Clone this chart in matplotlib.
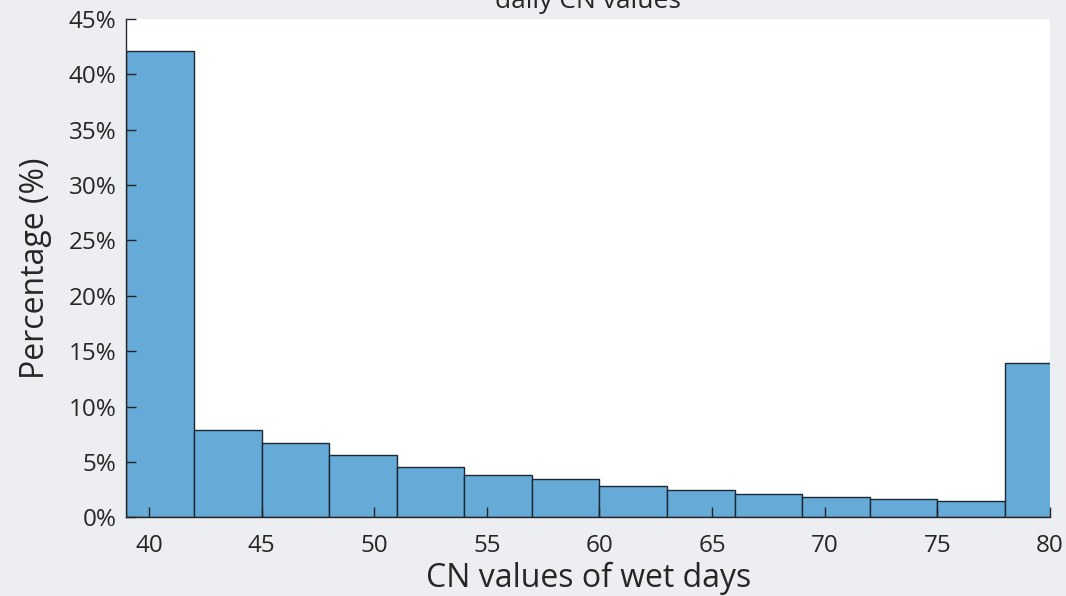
import matplotlib
matplotlib.use("Agg")
import matplotlib.pyplot as plt
import numpy as np

# Histogram of CN values on wet days (bins of width 3 starting at 39)
bin_lefts = [39, 42, 45, 48, 51, 54, 57, 60, 63, 66, 69, 72, 75, 78]
bin_width = 3
percentages = [42.1, 7.85, 6.68, 5.6, 4.54, 3.85, 3.43, 2.8, 2.49, 2.08,
               1.83, 1.65, 1.44, 13.9]

x_ticks = [40, 45, 50, 55, 60, 65, 70, 75, 80]
y_ticks = [0, 5, 10, 15, 20, 25, 30, 35, 40, 45]
y_tick_labels = [f"{v}%" for v in y_ticks]

title_text = "daily CN values"
x_label = "CN values of wet days"
y_label = "Percentage (%)"

plt.rcParams["font.family"] = ["Open Sans", "DejaVu Sans"]

fig = plt.figure(figsize=(10.66, 5.96), dpi=100)
fig.patch.set_facecolor("#eceef2")
ax = fig.add_axes([0.1186, 0.132, 0.8664, 0.8366])
ax.set_facecolor("white")

ax.bar(bin_lefts, percentages, width=bin_width, align="edge",
       color="#66aad7", edgecolor="#1b2733", linewidth=1.0)

ax.set_xlim(39, 80)
ax.set_ylim(0, 45)
ax.set_xticks(x_ticks)
ax.set_yticks(y_ticks)
ax.set_yticklabels(y_tick_labels)

for side in ("top", "right"):
    ax.spines[side].set_visible(False)
for side in ("left", "bottom"):
    ax.spines[side].set_color("#262626")
    ax.spines[side].set_linewidth(1.0)

ax.tick_params(axis="both", direction="in", length=7, width=1.0,
               colors="#262626", labelsize=17.5, labelcolor="#262626")
ax.tick_params(axis="x", pad=12)
ax.tick_params(axis="y", pad=7)

ax.set_xlabel(x_label, fontsize=23, color="#262626", labelpad=3)
ax.set_ylabel(y_label, fontsize=23, color="#262626", labelpad=12)

fig.text(0.5516, 1 - 8 / 596, title_text, ha="center", va="baseline",
         fontsize=19, color="#262626")

fig.savefig("out.png", dpi=100, facecolor=fig.get_facecolor())
